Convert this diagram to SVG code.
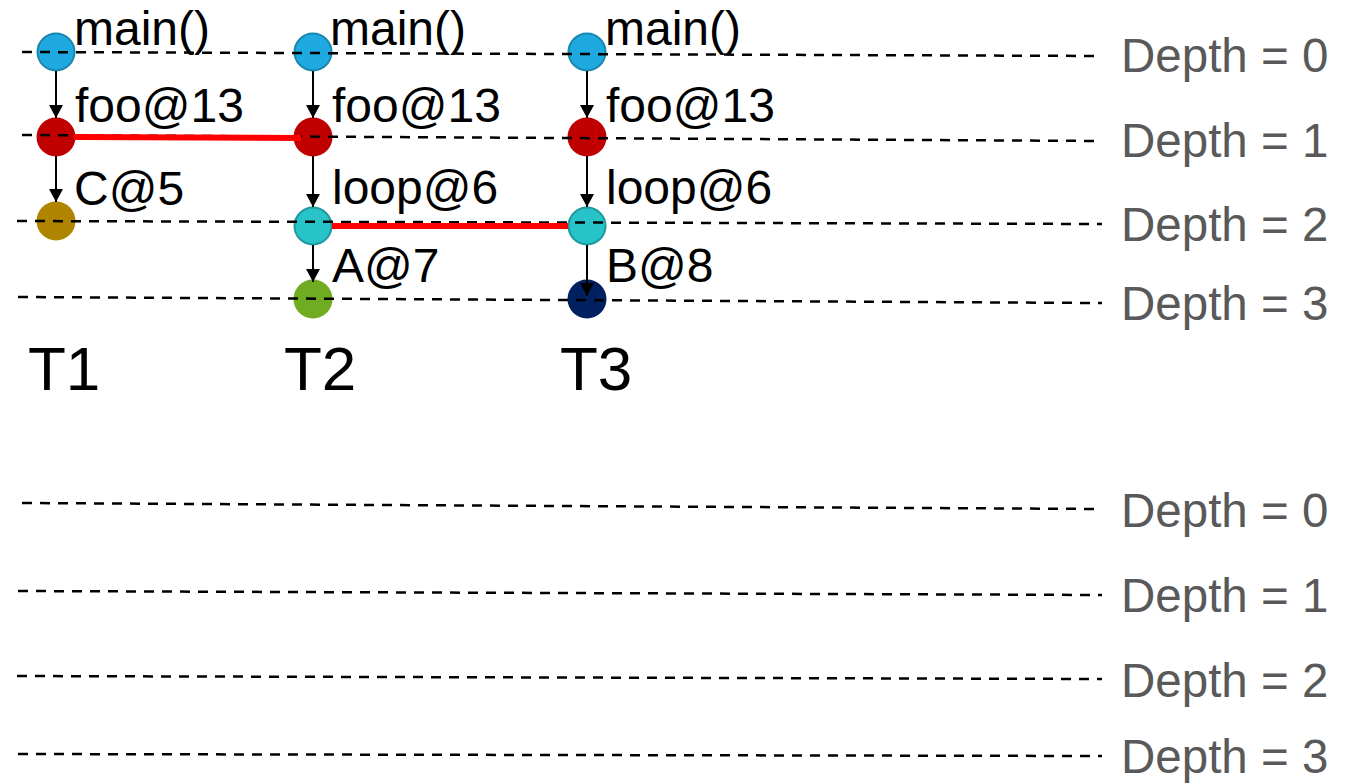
<svg xmlns="http://www.w3.org/2000/svg" width="1355" height="784" viewBox="0 0 1355 784">
  <style>
    .lbl { font-family: "Liberation Sans", Arial, sans-serif; font-size: 48px; fill: #000; }
    .depth { font-family: "Liberation Sans", Arial, sans-serif; font-size: 47.5px; fill: #595959; }
    .thread { font-family: "Liberation Sans", Arial, sans-serif; font-size: 62px; fill: #000; }
    .dash { stroke: #000; stroke-width: 2.5; stroke-dasharray: 10 8; fill: none; }
    .call { stroke: #000; stroke-width: 2; fill: none; marker-end: url(#head); }
    .link { stroke: #ff0000; stroke-width: 6; fill: none; }
    .main { fill: #1fa9e1; stroke: #1a87ac; stroke-width: 2; }
    .foo { fill: #c00000; }
    .loop { fill: #27c3c8; stroke: #1e9a9e; stroke-width: 2; }
    .c5 { fill: #af8500; }
    .a7 { fill: #6fac22; }
    .b8 { fill: #002060; }
  </style>
  <defs>
    <marker id="head" viewBox="0 0 13 14" refX="13" refY="7" markerUnits="userSpaceOnUse" markerWidth="13" markerHeight="14" orient="auto">
      <path d="M0,0 L13,7 L0,14 Z" fill="#000"/>
    </marker>
  </defs>
  <rect width="1355" height="784" fill="#fff"/>

  <!-- thread T1 -->
  <g id="t1">
    <circle class="main" cx="56" cy="52" r="18.5"/>
    <circle class="foo" cx="56" cy="137" r="19.5"/>
    <circle class="c5" cx="56" cy="221" r="19.5"/>
    <text class="lbl" x="74" y="45">main()</text>
    <text class="lbl" x="75" y="122">foo@13</text>
    <text class="lbl" x="74" y="205">C@5</text>
    <text class="thread" x="28" y="390">T1</text>
  </g>

  <!-- thread T2 -->
  <g id="t2">
    <circle class="main" cx="313" cy="52" r="18.5"/>
    <circle class="foo" cx="313" cy="137" r="19.5"/>
    <circle class="loop" cx="313" cy="226" r="18.5"/>
    <circle class="a7" cx="313" cy="299" r="19.5"/>
    <text class="lbl" x="330" y="45">main()</text>
    <text class="lbl" x="332" y="122">foo@13</text>
    <text class="lbl" x="332" y="204">loop@6</text>
    <text class="lbl" x="332" y="282">A@7</text>
    <text class="thread" x="284" y="390">T2</text>
  </g>

  <!-- thread T3 -->
  <g id="t3">
    <circle class="main" cx="587" cy="52" r="18.5"/>
    <circle class="foo" cx="587" cy="137" r="19.5"/>
    <circle class="loop" cx="587" cy="226" r="18.5"/>
    <circle class="b8" cx="587" cy="299" r="19.5"/>
    <text class="lbl" x="605" y="45">main()</text>
    <text class="lbl" x="606" y="122">foo@13</text>
    <text class="lbl" x="606" y="204">loop@6</text>
    <text class="lbl" x="606" y="282">B@8</text>
    <text class="thread" x="560" y="390">T3</text>
  </g>

  <!-- depth guides, upper panel -->
  <g id="depths-upper">
    <line class="dash" x1="22" y1="52" x2="1102" y2="56"/>
    <line class="dash" x1="22" y1="135" x2="1102" y2="141"/>
    <line class="dash" x1="17" y1="221" x2="1102" y2="224"/>
    <line class="dash" x1="18" y1="297" x2="1102" y2="303"/>
    <text class="depth" x="1121" y="72">Depth = 0</text>
    <text class="depth" x="1121" y="157">Depth = 1</text>
    <text class="depth" x="1121" y="241">Depth = 2</text>
    <text class="depth" x="1121" y="320">Depth = 3</text>
  </g>

  <!-- depth guides, lower panel -->
  <g id="depths-lower">
    <line class="dash" x1="22" y1="503" x2="1102" y2="509"/>
    <line class="dash" x1="18" y1="591" x2="1102" y2="595"/>
    <line class="dash" x1="17" y1="676" x2="1102" y2="679"/>
    <line class="dash" x1="18" y1="754" x2="1102" y2="756"/>
    <text class="depth" x="1121" y="527">Depth = 0</text>
    <text class="depth" x="1121" y="612">Depth = 1</text>
    <text class="depth" x="1121" y="697">Depth = 2</text>
    <text class="depth" x="1121" y="773">Depth = 3</text>
  </g>

  <!-- call edges and shared-frame links -->
  <g id="connectors">
    <line class="call" x1="56" y1="71" x2="56" y2="118"/>
    <line class="call" x1="56" y1="156" x2="56" y2="202"/>
    <line class="call" x1="313" y1="71" x2="313" y2="118"/>
    <line class="call" x1="313" y1="156" x2="313" y2="207"/>
    <line class="call" x1="313" y1="245" x2="313" y2="282"/>
    <line class="call" x1="587" y1="71" x2="587" y2="118"/>
    <line class="call" x1="587" y1="156" x2="587" y2="207"/>
    <line class="call" x1="587" y1="245" x2="587" y2="296"/>
    <line class="link" x1="74" y1="137" x2="301" y2="138"/>
    <line class="link" x1="332" y1="226" x2="568" y2="226"/>
  </g>
</svg>
